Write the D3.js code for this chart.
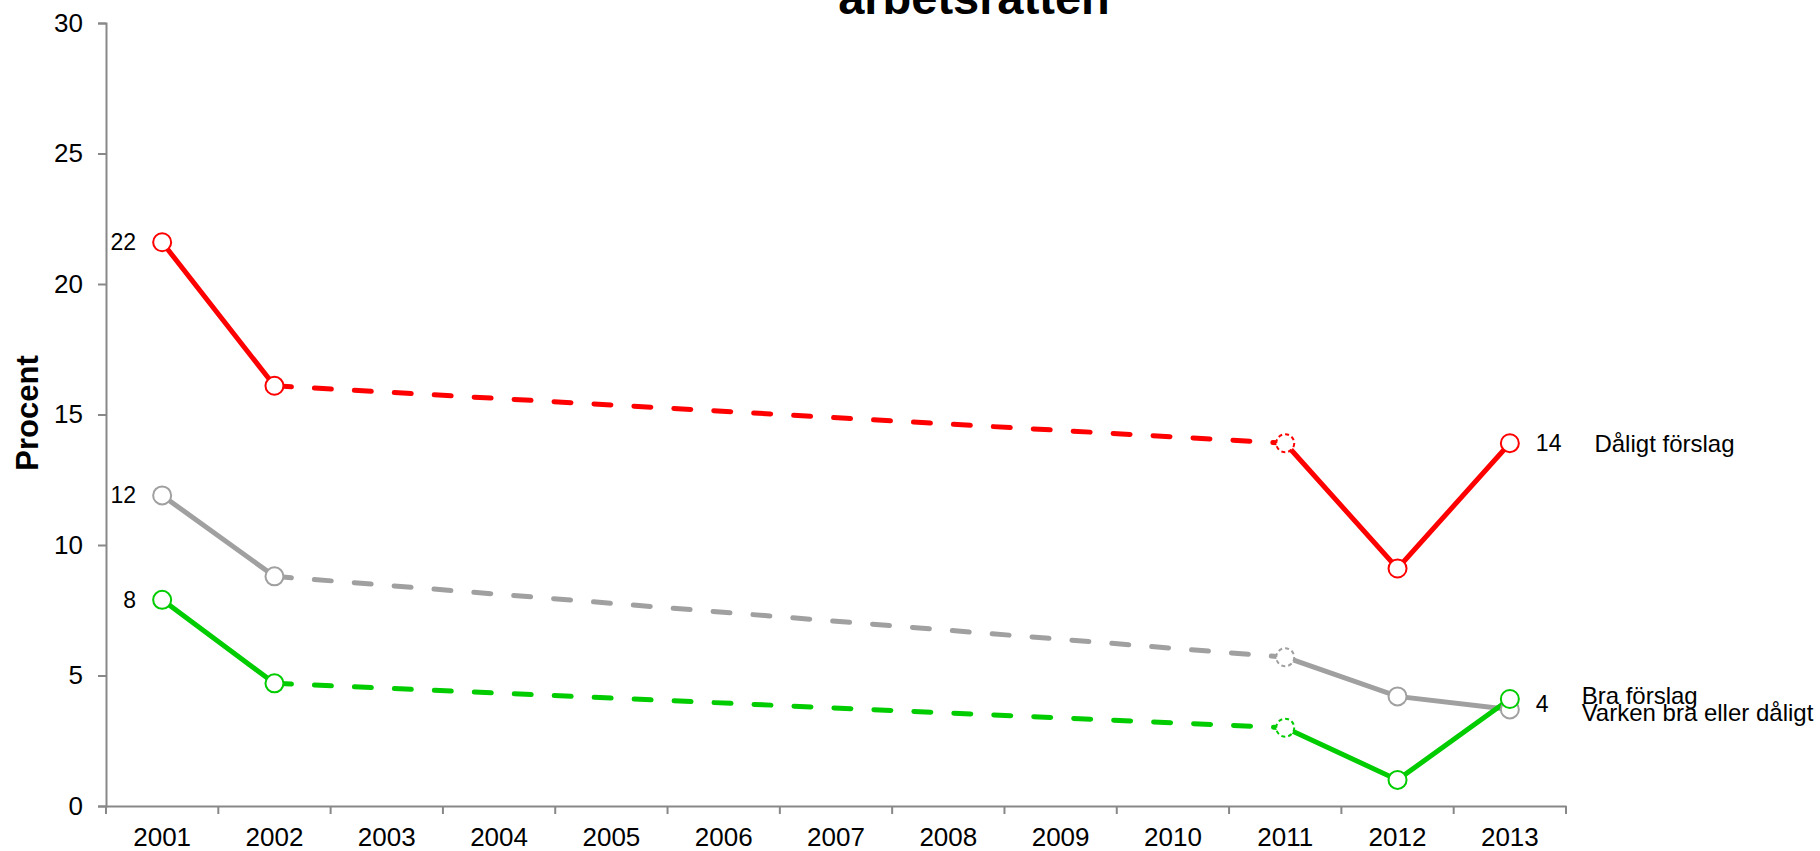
<!DOCTYPE html>
<html>
<head>
<meta charset="utf-8">
<script src="https://cdn.jsdelivr.net/npm/d3@7"></script>
<style>
  body { margin: 0; background: #fff; }
  text { font-family: Arial, "Liberation Sans", sans-serif; fill: #000; }
</style>
</head>
<body>
<div id="chart"></div>
<script>
// Data
var years = ["2001", "2002", "2003", "2004", "2005", "2006", "2007", "2008", "2009", "2010", "2011", "2012", "2013"];
var surveyYears = ["2001", "2002", "2011", "2012", "2013"];
var badValues = [21.6, 16.1, 13.9, 9.1, 13.9];
var neutralValues = [11.9, 8.8, 5.7, 4.2, 3.7];
var goodValues = [7.9, 4.7, 3.0, 1.0, 4.1];
var seriesNames = ["Dåligt förslag", "Varken bra eller dåligt", "Bra förslag"];
var yTicks = [0, 5, 10, 15, 20, 25, 30];

var svgWidth = 1820;
var svgHeight = 851;

var series = [
  { name: seriesNames[0], values: badValues, color: "#ff0000" },
  { name: seriesNames[1], values: neutralValues, color: "#a0a0a0" },
  { name: seriesNames[2], values: goodValues, color: "#00cc00" }
];

var svg = d3.select("#chart")
  .append("svg")
  .attr("width", svgWidth)
  .attr("height", svgHeight);

var x = d3.scaleBand().domain(years).range([106, 1566]);
var y = d3.scaleLinear().domain([0, 30]).range([806, 23]);
var cx = function(yr) { return x(yr) + x.bandwidth() / 2; };

// title (its first line falls outside the picture, as in the original)
svg.append("text")
  .attr("x", 974)
  .attr("y", 14)
  .attr("text-anchor", "middle")
  .style("font-size", "47px")
  .style("font-weight", "bold")
  .text("arbetsrätten");

// y axis
var yAxis = svg.append("g")
  .attr("transform", "translate(106,0)")
  .call(d3.axisLeft(y).tickValues(yTicks).tickSize(8).tickPadding(15));
yAxis.selectAll("text").style("font-size", "26px").attr("font-family", null);

// x axis: labels at band centres, ticks at band edges
var xAxis = svg.append("g")
  .attr("transform", "translate(0,806)")
  .call(d3.axisBottom(x).tickSize(0).tickPadding(22).tickSizeOuter(0));
xAxis.selectAll("text").style("font-size", "26px").attr("font-family", null);
xAxis.selectAll(".edge")
  .data(years.concat(["end"]))
  .enter()
  .append("line")
  .attr("class", "edge")
  .attr("x1", d => d === "end" ? x.range()[1] : x(d))
  .attr("x2", d => d === "end" ? x.range()[1] : x(d))
  .attr("y1", 0)
  .attr("y2", 8);

svg.selectAll(".domain, .tick line, .edge")
  .attr("stroke", "#888")
  .attr("stroke-width", 2);

// y axis title
svg.append("text")
  .attr("transform", "translate(38,413) rotate(-90)")
  .attr("text-anchor", "middle")
  .style("font-size", "31px")
  .style("font-weight", "bold")
  .text("Procent");

var line = d3.line()
  .x(d => cx(d.year))
  .y(d => y(d.value));

var lineGroup = svg.append("g");
var dotGroup = svg.append("g");
var labelGroup = svg.append("g");

var ends = [];

series.forEach(function(s) {
  var pts = surveyYears.map((yr, i) => ({ year: yr, value: s.values[i] }));

  // solid 2001-2002, dashed over the gap 2002-2011, solid 2011-2013
  var parts = [
    { pts: pts.slice(0, 2), dash: null },
    { pts: pts.slice(1, 3), dash: "17,23" },
    { pts: pts.slice(2), dash: null }
  ];
  parts.forEach(function(p) {
    lineGroup.append("path")
      .attr("d", line(p.pts))
      .attr("fill", "none")
      .attr("stroke", s.color)
      .attr("stroke-width", 5)
      .attr("stroke-linecap", "round")
      .attr("stroke-dasharray", p.dash);
  });

  dotGroup.selectAll(null)
    .data(pts)
    .enter()
    .append("circle")
    .attr("cx", d => cx(d.year))
    .attr("cy", d => y(d.value))
    .attr("r", 9)
    .attr("fill", "#fff")
    .attr("stroke", s.color)
    .attr("stroke-width", 2)
    .attr("stroke-dasharray", d => d.year === "2011" ? "4,3" : null);

  var first = pts[0];
  labelGroup.append("text")
    .attr("x", cx(first.year) - 26)
    .attr("y", y(first.value))
    .attr("dy", "0.35em")
    .attr("text-anchor", "end")
    .style("font-size", "23px")
    .text(Math.round(first.value));

  ends.push({ name: s.name, last: pts[pts.length - 1] });
});

// end labels: equal rounded values close together share one label,
// names pushed apart so they do not sit on each other
var groups = [];
ends.forEach(function(e) {
  var txt = Math.round(e.last.value);
  var yy = y(e.last.value);
  var g = groups.find(g => g.txt === txt && Math.abs(g.ys[0] - yy) < 20);
  if (g) { g.ys.push(yy); g.names.push(e.name); }
  else groups.push({ txt: txt, ys: [yy], names: [e.name] });
});

var lastX = cx(surveyYears[surveyYears.length - 1]) + 26;
groups.forEach(function(g) {
  var midY = d3.mean(g.ys);
  var valueLabel = labelGroup.append("text")
    .attr("x", lastX)
    .attr("y", midY)
    .attr("dy", "0.35em")
    .style("font-size", "23px")
    .text(g.txt);
  var nameX = lastX + valueLabel.node().getComputedTextLength() + 33;

  var order = g.ys.map((v, i) => i).sort((a, b) => g.ys[a] - g.ys[b]);
  order.forEach(function(idx, k) {
    var ny = g.ys.length > 1 ? midY + (k - (g.ys.length - 1) / 2) * 17 : midY;
    labelGroup.append("text")
      .attr("x", nameX)
      .attr("y", ny)
      .attr("dy", "0.35em")
      .style("font-size", "24px")
      .text(g.names[idx]);
  });
});
</script>
</body>
</html>
